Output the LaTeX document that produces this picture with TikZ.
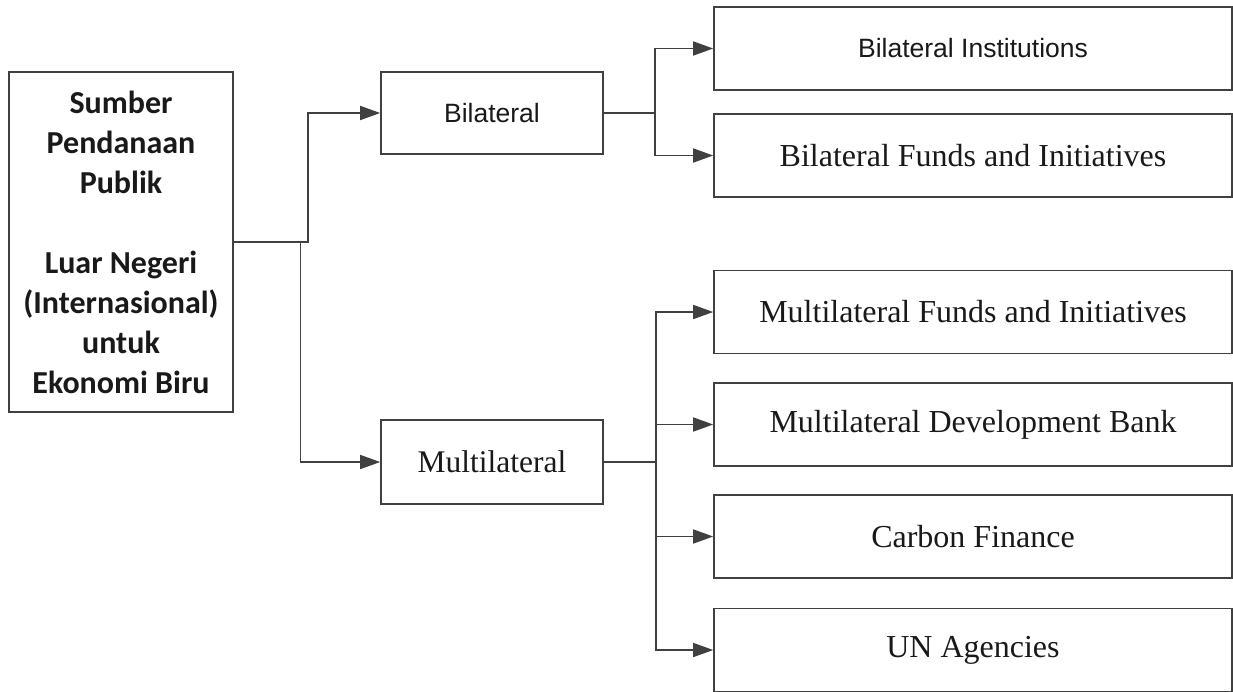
\documentclass[tikz,border=0pt]{standalone}
\usepackage{fontspec}
\setmainfont{Liberation Serif}
\newfontfamily\arialfont{Liberation Sans}
\newfontfamily\calibrifont{Carlito}
\usetikzlibrary{arrows.meta}
\begin{document}
\begin{tikzpicture}[x=1pt,y=-1pt,
 box/.style={draw=black!75,line width=1.6pt,fill=white,inner sep=0pt,text=black!90},
 rbox/.style={box,minimum width=518pt,minimum height=83pt},
 arr/.style={draw=black!75,line width=1.6pt,-{Triangle[length=20pt,width=14pt]}},
 ln/.style={draw=black!75,line width=1.6pt}]
 \useasboundingbox (0,0) rectangle (1233,691);
 \node[box,minimum width=224pt,minimum height=340pt,align=center,font=\calibrifont\bfseries\fontsize{32}{40}\selectfont] (src) at (121,242) {Sumber\\Pendanaan\\Publik\\[40pt]Luar Negeri\\(Internasional)\\untuk\\Ekonomi Biru};
 \node[box,minimum width=222pt,minimum height=82pt,font=\arialfont\fontsize{26.5}{30}\selectfont] (bil) at (492,113) {Bilateral};
 \node[box,minimum width=222pt,minimum height=84pt,font=\fontsize{31.5}{36}\selectfont] (mul) at (492,462) {Multilateral};
 \node[rbox,font=\arialfont\fontsize{26.5}{30}\selectfont] (bilinst) at (973,48.5) {Bilateral Institutions};
 \node[rbox,font=\fontsize{32}{36}\selectfont] (bilfund) at (973,155.5) {Bilateral Funds and Initiatives};
 \node[rbox,font=\fontsize{32}{36}\selectfont] (mulfund) at (973,312) {Multilateral Funds and Initiatives};
 \node[rbox,font=\fontsize{32}{36}\selectfont] (mdb) at (973,424.5) {Multilateral Development Bank};
 \node[rbox,font=\fontsize{32}{36}\selectfont] (carbon) at (973,536.5) {Carbon Finance};
 \node[rbox,font=\fontsize{32}{36}\selectfont] (unag) at (973,650) {UN Agencies};
 % source to bilateral / multilateral
 \draw[arr] (src.east) -- ++(74,0) |- (bil.west);
 \draw[arr] (src.east) -- ++(66.5,0) |- (mul.west);
 % bilateral branch
 \draw[ln] (bil.east) -- ++(51,0);
 \draw[arr] (bil.east) ++(51,0) |- (bilinst.west);
 \draw[arr] (bil.east) ++(51,0) |- (bilfund.west);
 % multilateral branch
 \draw[ln] (mul.east) -- ++(52,0);
 \foreach \t in {mulfund,mdb,carbon,unag}
  \draw[arr] (mul.east) ++(52,0) |- (\t.west);
\end{tikzpicture}
\end{document}
